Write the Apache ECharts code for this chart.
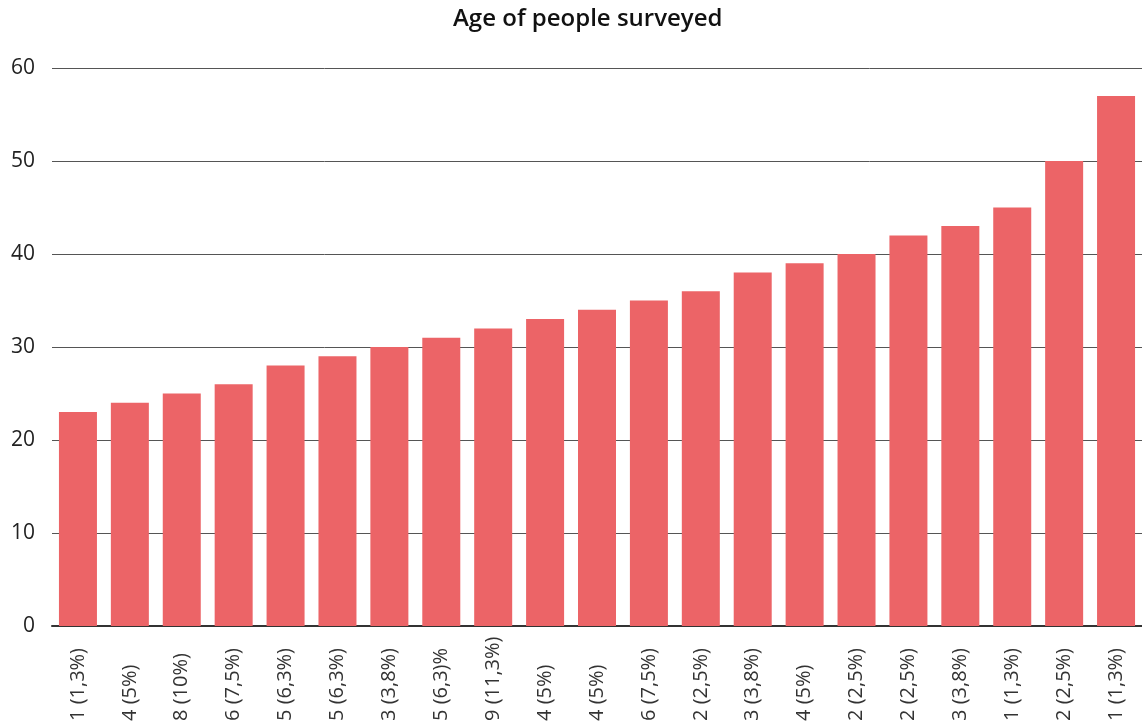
<!DOCTYPE html>
<html>
<head>
<meta charset="utf-8">
<script src="https://cdn.jsdelivr.net/npm/echarts@6/dist/echarts.min.js"></script>
<style>
	html, body { margin: 0; padding: 0; background: #FFFFFF; }
	#chart { width: 1142px; height: 727px; }
</style>
</head>
<body>
<div id="chart"></div>
<script>
// 类目标签（底部被裁切，只保留可见部分）
var categories = [
	'1 (1,3%)', '4 (5%)', '8 (10%)', '6 (7,5%)', '5 (6,3%)', '5 (6,3%)', '3 (3,8%)',
	'5 (6,3)%', '9 (11,3%)', '4 (5%)', '4 (5%)', '6 (7,5%)', '2 (2,5%)', '3 (3,8%)',
	'4 (5%)', '2 (2,5%)', '2 (2,5%)', '3 (3,8%)', '1 (1,3%)', '2 (2,5%)', '1 (1,3%)'
];
// 年龄
var ages = [23, 24, 25, 26, 28, 29, 30, 31, 32, 33, 34, 35, 36, 38, 39, 40, 42, 43, 45, 50, 57];
var yTicks = { min: 0, max: 60, interval: 10 };

var chartInstance = echarts.init(document.getElementById('chart'));
var fontFamily = '"Open Sans", "Noto Sans", sans-serif';

var option = {
	backgroundColor: '#FFFFFF',
	animation: false,
	title: {
		text: 'Age of people surveyed',
		left: 448,
		top: 2,
		textStyle: {
			color: '#111111',
			fontFamily: fontFamily,
			fontSize: 24,
			fontWeight: 600,
		},
	},
	grid: {
		left: 52,
		top: 68,
		width: 1092,
		height: 558,
		containLabel: false,
	},
	xAxis: {
		type: 'category',
		data: categories,
		axisTick: { show: false },
		axisLine: { lineStyle: { color: '#333333', width: 2 } },
		axisLabel: {
			rotate: 90,
			align: 'left',
			margin: 95,
			interval: 0,
			color: '#333333',
			fontFamily: fontFamily,
			fontSize: 20,
		},
	},
	yAxis: {
		type: 'value',
		min: yTicks.min,
		max: yTicks.max,
		interval: yTicks.interval,
		axisLine: { show: false },
		axisTick: { show: false },
		axisLabel: {
			margin: 17,
			color: '#222222',
			fontFamily: fontFamily,
			fontSize: 21,
		},
		splitLine: { lineStyle: { color: '#555555', width: 1 } },
	},
	series: [{
		type: 'bar',
		data: ages,
		barWidth: 38,
		itemStyle: { color: '#EC6467' },
	}],
};

chartInstance.setOption(option);
</script>
</body>
</html>
